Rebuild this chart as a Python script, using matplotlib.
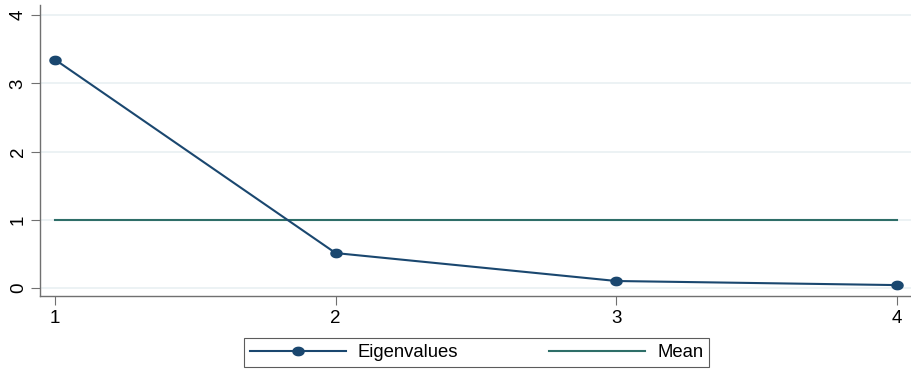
import matplotlib.pyplot as plt
import numpy as np
from matplotlib.path import Path

plt.rcParams['font.family'] = ['Liberation Sans', 'DejaVu Sans']

# scree plot data
components = [1, 2, 3, 4]
eigenvalues = [3.35, 0.51, 0.10, 0.04]
mean_eig = 1.0

navy = '#1a476f'
teal = '#2e6e68'
axis_gray = '#707070'

# Stata-like slightly flattened circle marker
t = np.linspace(0, 2 * np.pi, 60)
ellipse = Path(np.column_stack([1.0 * np.cos(t), 0.75 * np.sin(t)]), closed=True)

fig = plt.figure(figsize=(9.12, 3.70), dpi=100)
ax = fig.add_axes([40 / 912, 74 / 370, 872 / 912, 291 / 370])

ax.plot(components, eigenvalues, color=navy, lw=1.5, marker=ellipse,
        ms=8, mfc=navy, mec=navy, label='Eigenvalues', zorder=3)
ax.plot([components[0], components[-1]], [mean_eig, mean_eig], color=teal,
        lw=1.5, label='Mean', zorder=2)

ax.set_xlim(0.947, 4.053)
ax.set_ylim(-0.12, 4.15)
ax.set_xticks(components)
ax.set_yticks([0, 1, 2, 3, 4])
ax.set_yticklabels(['0', '1', '2', '3', '4'], rotation=90, va='center')

ax.grid(axis='y', color='#e9f0f2', lw=1.2)
ax.set_axisbelow(True)
for s in ['top', 'right']:
    ax.spines[s].set_visible(False)
for s in ['left', 'bottom']:
    ax.spines[s].set_color(axis_gray)
    ax.spines[s].set_linewidth(1.0)
ax.tick_params(direction='out', length=6.5, width=0.8, color=axis_gray,
               labelsize=13.5, labelcolor='black')
ax.tick_params(axis='y', pad=3)

leg = fig.legend(loc='center', bbox_to_anchor=(476.5 / 912, 1 - 352.5 / 370),
                 ncol=2, fontsize=13.3, frameon=True, fancybox=False,
                 handlelength=5.2, handletextpad=0.65, columnspacing=4.9,
                 borderpad=0.3, borderaxespad=0)
leg.get_frame().set_edgecolor('#333333')
leg.get_frame().set_linewidth(0.8)

plt.savefig('out.png', dpi=100)
plt.close()
